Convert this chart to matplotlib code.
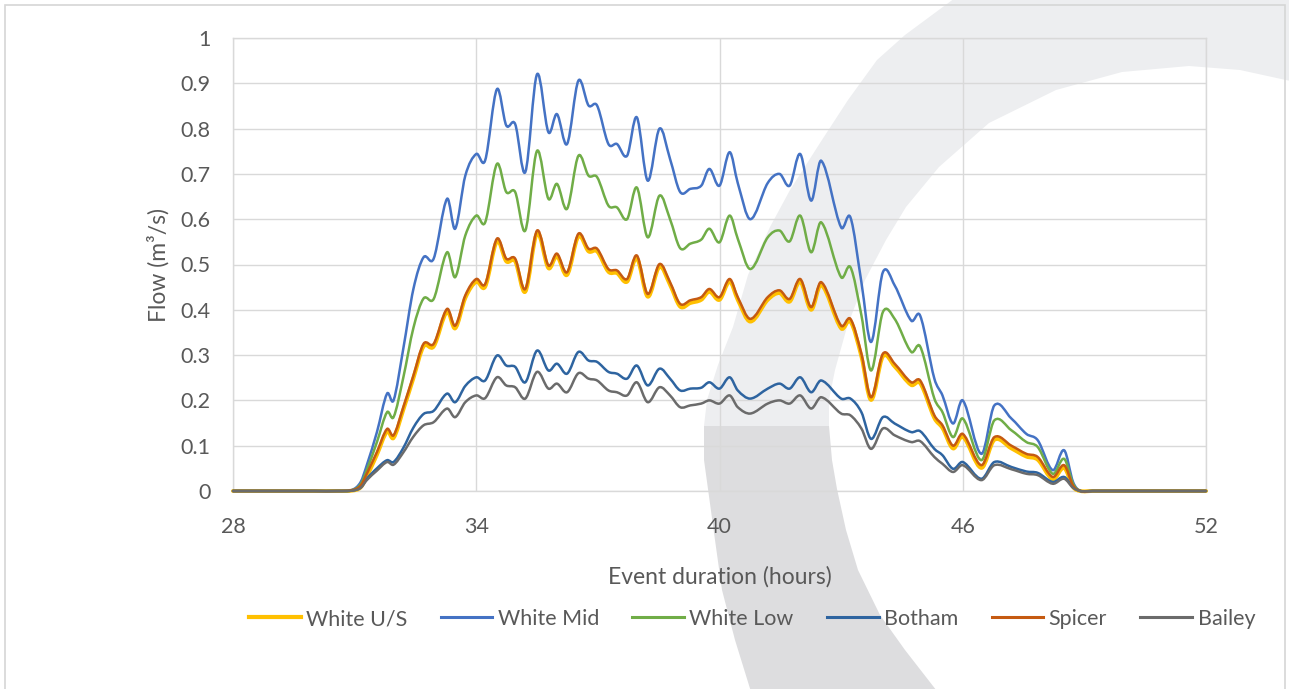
import numpy as np
import matplotlib
matplotlib.use("Agg")
import matplotlib.pyplot as plt
from matplotlib.path import Path
from matplotlib.patches import PathPatch, Polygon, Rectangle
from matplotlib.lines import Line2D

# ---- datos (horas, caudal m3/s) ----
hours = [28, 29, 30, 30.6, 30.95, 31.15, 31.3, 31.55, 31.8, 31.96, 32.2, 32.45, 32.7, 32.95,
         33.28, 33.48, 33.73, 34.0, 34.22, 34.51, 34.74, 34.96, 35.21, 35.5, 35.78, 35.99,
         36.24, 36.52, 36.77, 36.98, 37.26, 37.47, 37.72, 37.96, 38.23, 38.52, 38.78, 39.03,
         39.28, 39.55, 39.75, 40.0, 40.25, 40.45, 40.76, 41.19, 41.48, 41.73, 41.99, 42.26,
         42.51, 43.0, 43.23, 43.5, 43.74, 44.03, 44.32, 44.73, 44.95, 45.3, 45.5, 45.76,
         46.0, 46.46, 46.78, 47.2, 47.57, 47.85, 48.22, 48.5, 48.72, 48.9, 49.2, 50, 51, 52]

white_us = [0, 0, 0, 0, 0.001, 0.008, 0.032, 0.080, 0.131, 0.117, 0.179, 0.249, 0.319, 0.319,
            0.396, 0.359, 0.426, 0.462, 0.451, 0.551, 0.507, 0.507, 0.440, 0.569, 0.492, 0.518,
            0.477, 0.562, 0.529, 0.529, 0.484, 0.481, 0.462, 0.514, 0.429, 0.495, 0.455, 0.407,
            0.415, 0.422, 0.440, 0.422, 0.462, 0.422, 0.374, 0.422, 0.437, 0.418, 0.462, 0.400,
            0.455, 0.359, 0.374, 0.297, 0.201, 0.297, 0.275, 0.234, 0.238, 0.161, 0.139, 0.094,
            0.120, 0.051, 0.113, 0.094, 0.076, 0.069, 0.026, 0.051, 0.009, 0, 0, 0, 0, 0]

white_mid = [0, 0, 0, 0, 0.003, 0.020, 0.057, 0.130, 0.215, 0.200, 0.314, 0.446, 0.516, 0.513,
             0.645, 0.579, 0.696, 0.744, 0.730, 0.887, 0.807, 0.810, 0.704, 0.920, 0.792, 0.832,
             0.766, 0.906, 0.851, 0.851, 0.766, 0.766, 0.740, 0.825, 0.685, 0.800, 0.733, 0.660,
             0.667, 0.674, 0.711, 0.674, 0.748, 0.680, 0.600, 0.680, 0.700, 0.674, 0.744, 0.641,
             0.729, 0.582, 0.604, 0.461, 0.329, 0.483, 0.454, 0.376, 0.387, 0.248, 0.211, 0.149,
             0.200, 0.082, 0.189, 0.160, 0.126, 0.112, 0.046, 0.090, 0.020, 0, 0, 0, 0, 0]

white_low = [0, 0, 0, 0, 0.002, 0.015, 0.046, 0.108, 0.174, 0.163, 0.250, 0.360, 0.425, 0.424,
             0.527, 0.472, 0.564, 0.608, 0.593, 0.722, 0.660, 0.660, 0.575, 0.751, 0.645, 0.678,
             0.623, 0.740, 0.696, 0.693, 0.630, 0.626, 0.600, 0.670, 0.560, 0.652, 0.600, 0.536,
             0.546, 0.555, 0.579, 0.549, 0.608, 0.557, 0.490, 0.560, 0.575, 0.551, 0.608, 0.527,
             0.593, 0.472, 0.494, 0.388, 0.266, 0.395, 0.380, 0.307, 0.319, 0.204, 0.174, 0.119,
             0.160, 0.068, 0.156, 0.134, 0.108, 0.097, 0.038, 0.071, 0.016, 0, 0, 0, 0, 0]

botham = [0, 0, 0, 0, 0.001, 0.008, 0.027, 0.050, 0.068, 0.064, 0.095, 0.140, 0.170, 0.177,
          0.215, 0.196, 0.232, 0.251, 0.244, 0.299, 0.277, 0.274, 0.240, 0.310, 0.266, 0.281,
          0.259, 0.307, 0.288, 0.285, 0.263, 0.259, 0.248, 0.277, 0.233, 0.270, 0.248, 0.222,
          0.226, 0.228, 0.240, 0.226, 0.251, 0.222, 0.204, 0.226, 0.237, 0.226, 0.251, 0.218,
          0.244, 0.204, 0.204, 0.174, 0.115, 0.163, 0.149, 0.130, 0.132, 0.093, 0.079, 0.049,
          0.064, 0.027, 0.064, 0.053, 0.043, 0.040, 0.020, 0.031, 0.009, 0, 0, 0, 0, 0]

spicer = [0, 0, 0, 0, 0.002, 0.012, 0.038, 0.086, 0.137, 0.123, 0.185, 0.255, 0.325, 0.325,
          0.402, 0.365, 0.432, 0.468, 0.457, 0.557, 0.513, 0.513, 0.446, 0.575, 0.498, 0.524,
          0.483, 0.568, 0.535, 0.535, 0.490, 0.487, 0.468, 0.520, 0.435, 0.501, 0.461, 0.413,
          0.421, 0.428, 0.446, 0.428, 0.468, 0.428, 0.380, 0.428, 0.443, 0.424, 0.468, 0.406,
          0.461, 0.365, 0.380, 0.303, 0.207, 0.303, 0.281, 0.240, 0.244, 0.167, 0.145, 0.100,
          0.126, 0.057, 0.119, 0.100, 0.082, 0.075, 0.031, 0.057, 0.012, 0, 0, 0, 0, 0]

bailey = [0, 0, 0, 0, 0.001, 0.007, 0.024, 0.045, 0.064, 0.058, 0.085, 0.120, 0.145, 0.152,
          0.182, 0.163, 0.196, 0.211, 0.205, 0.251, 0.233, 0.229, 0.204, 0.263, 0.226, 0.237,
          0.218, 0.260, 0.248, 0.244, 0.222, 0.218, 0.211, 0.240, 0.196, 0.229, 0.211, 0.185,
          0.189, 0.193, 0.200, 0.193, 0.211, 0.185, 0.171, 0.193, 0.200, 0.193, 0.211, 0.182,
          0.207, 0.171, 0.167, 0.138, 0.093, 0.138, 0.123, 0.108, 0.110, 0.075, 0.060, 0.042,
          0.057, 0.024, 0.057, 0.048, 0.038, 0.035, 0.016, 0.027, 0.007, 0, 0, 0, 0, 0]

series_names = ["White U/S", "White Mid", "White Low", "Botham", "Spicer", "Bailey"]
series_values = [white_us, white_mid, white_low, botham, spicer, bailey]
series_colors = ["#FFC000", "#4472C4", "#70AD47", "#2E64A0", "#C55A11", "#6B6B6B"]
series_widths = [2.8, 1.8, 1.8, 1.8, 1.8, 1.8]

x_ticks = [28, 34, 40, 46, 52]
y_ticks = [0, 0.1, 0.2, 0.3, 0.4, 0.5, 0.6, 0.7, 0.8, 0.9, 1]
y_tick_labels = ["0", "0.1", "0.2", "0.3", "0.4", "0.5", "0.6", "0.7", "0.8", "0.9", "1"]

W, H = 1289, 689
TXT = "#595959"
GRID = "#d9d9d9"
plt.rcParams["font.family"] = ["Lato", "DejaVu Sans"]


def curva_suave(x, y):
    """Linea suavizada (tipo Excel) como curvas Bezier cubicas."""
    x = np.asarray(x, float)
    y = np.asarray(y, float)
    n = len(x)
    m = np.zeros(n)
    for i in range(1, n - 1):
        m[i] = (y[i + 1] - y[i - 1]) / (x[i + 1] - x[i - 1])
    verts = [(x[0], y[0])]
    codes = [Path.MOVETO]
    for i in range(n - 1):
        dx = x[i + 1] - x[i]
        verts += [(x[i] + dx / 3, y[i] + m[i] * dx / 3),
                  (x[i + 1] - dx / 3, y[i + 1] - m[i + 1] * dx / 3),
                  (x[i + 1], y[i + 1])]
        codes += [Path.CURVE4] * 3
    return Path(verts, codes)


def px(pts):
    # coordenadas en pixeles de la imagen -> fraccion de la figura
    return [(a / W, 1 - b / H) for a, b in pts]


fig = plt.figure(figsize=(W / 100, H / 100), dpi=100)
fig.patch.set_facecolor("white")

# marca de agua (arco gris del fondo), detras de los ejes
outer_top = [(955, -2), (905, 35), (877, 60), (848, 100), (820, 143), (790, 190), (770, 227),
             (748, 275), (733, 327), (718, 365), (707, 400), (704, 426)]
inner_top = [(829, 426), (829, 400), (835, 370), (847, 327), (865, 280), (886, 240), (906, 207),
             (939, 167), (989, 123), (1056, 90), (1122, 72), (1189, 66), (1240, 70), (1295, 82),
             (1295, -2)]
outer_bot = [(704, 426), (704, 460), (708, 489), (715, 540), (722, 590), (735, 640), (752, 695)]
inner_bot = [(940, 695), (905, 650), (880, 615), (858, 570), (846, 530), (837, 489), (832, 460),
             (829, 426)]
fig.patches.append(Polygon(px(outer_top + inner_top), closed=True, transform=fig.transFigure,
                           facecolor="#edeef0", edgecolor="none", zorder=-10))
fig.patches.append(Polygon(px(outer_bot + inner_bot), closed=True, transform=fig.transFigure,
                           facecolor="#dddddf", edgecolor="none", zorder=-10))
fig.patches.append(Rectangle((5 / W, -0.05), 1280 / W, 1 - 5 / H + 0.05, transform=fig.transFigure,
                             facecolor="none", edgecolor="#d6d6d6", lw=1.2, zorder=-9))

ax = fig.add_axes([233 / W, 1 - 491 / H, (1206 - 233) / W, (491 - 38) / H])
ax.set_zorder(1)
ax.set_facecolor("none")
ax.set_xlim(28, 52)
ax.set_ylim(0, 1)
ax.set_xticks(x_ticks)
ax.set_yticks(y_ticks)
ax.set_yticklabels(y_tick_labels)
ax.grid(True, color=GRID, lw=1.0)
ax.set_axisbelow(True)
for s in ax.spines.values():
    s.set_color(GRID)
    s.set_linewidth(1.0)
ax.tick_params(length=0, labelsize=15.5, colors=TXT)
ax.tick_params(axis="x", pad=19)
ax.tick_params(axis="y", pad=16)

for vals, col, lw in zip(series_values, series_colors, series_widths):
    ax.add_patch(PathPatch(curva_suave(hours, vals), facecolor="none", edgecolor=col, lw=lw,
                           capstyle="round", joinstyle="round", clip_on=False, zorder=3))

ax.set_xlabel("Event duration (hours)", fontsize=16.5, color=TXT, labelpad=21)
ax.set_ylabel("Flow (m³/s)", fontsize=16.5, color=TXT, labelpad=8)

handles = [Line2D([], [], color=c, lw=2.2 if i else 3.0) for i, c in enumerate(series_colors)]
leg = fig.legend(handles, series_names, loc="center", bbox_to_anchor=(752 / W, 1 - 619 / H),
                 ncol=6, frameon=False, fontsize=15.5, labelcolor=TXT, handlelength=2.4,
                 handletextpad=0.25, columnspacing=1.55)
leg.set_zorder(2)

fig.savefig("out.png", dpi=100)
